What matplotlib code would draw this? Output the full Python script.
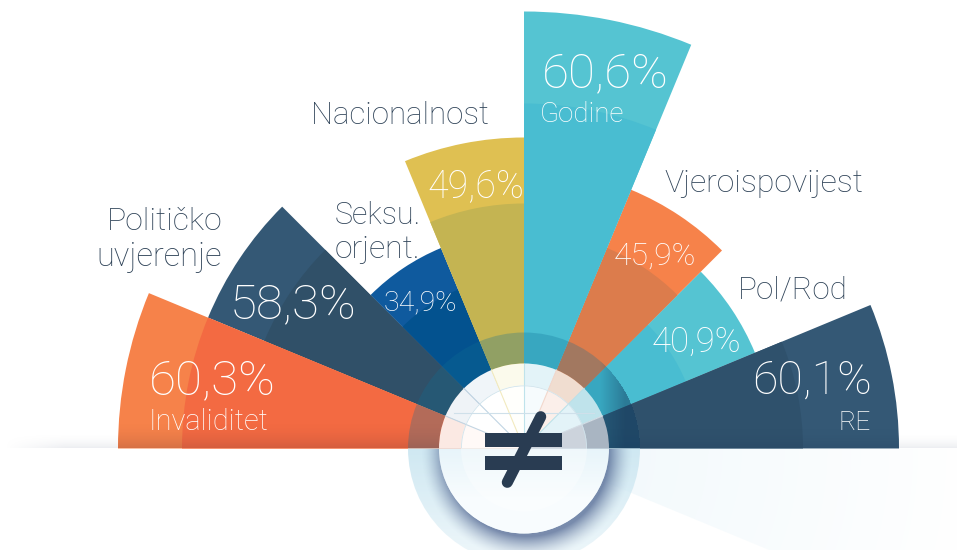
import numpy as np
import matplotlib
matplotlib.use("Agg")
import matplotlib.pyplot as plt
from matplotlib.patches import Wedge, Rectangle
from matplotlib.colors import to_rgb

categories = ["Invaliditet", "Političko uvjerenje", "Seksu. orjent.", "Nacionalnost",
              "Godine", "Vjeroispovijest", "Pol/Rod", "RE"]
values = [60.3, 58.3, 34.9, 49.6, 60.6, 45.9, 40.9, 60.1]
radii_px = [406, 342, 217, 311, 437, 280, 250, 375]
band_px = [342, 281, 172, 245, 345, 217, 175, 279]
outer_colors = ["#F6824A", "#345875", "#0F5A9E", "#DFC052", "#55C4D2", "#F6824A", "#55C4D2", "#345875"]
inner_colors = ["#F36A42", "#305068", "#03528F", "#C4B452", "#49BDD1", "#DC7C4C", "#49BDD1", "#2F516C"]
annulus_tints = ["#FBE9E3", "#EFF3F7", "#F0F5F9", "#FBFAEC", "#E3F3F8", "#F0DDD0", "#BFE3EB", "#A9B5C2"]
core_tints = ["#FFF9F7", "#FFFFFF", "#FFFFFF", "#FFFFFC", "#F6FBFD", "#FBEFEA", "#E3F3F8", "#CCD3DC"]
spoke_colors = ["#F3D9CE", "#C3D6E4", "#C3D6E4", "#F3EBC0", "#BFE3EB", "#F3D9CE", "#BFE3EB", "#D5DEE6"]
draw_order = [2, 1, 0, 3, 6, 5, 7, 4]

CX, CY = 524, 448.5
W, H = 957, 550
STEP = 22.5

plt.rcParams["font.family"] = ["Roboto", "DejaVu Sans"]
fig = plt.figure(figsize=(W / 100, H / 100), dpi=100)
ax = fig.add_axes([0, 0, 1, 1])
ax.set_xlim(0, W)
ax.set_ylim(H, 0)
ax.axis("off")

yy, xx = np.mgrid[0:H, 0:W] + 0.5
rr = np.hypot(xx - CX, yy - CY)


def layer(color, alpha, z, clip=None):
    img = np.zeros((H, W, 4))
    img[..., :3] = to_rgb(color)
    img[..., 3] = np.clip(alpha, 0, 1)
    im = ax.imshow(img, extent=(0, W, H, 0), origin="upper", zorder=z,
                   interpolation="bilinear", aspect="auto")
    if clip is not None:
        ax.add_patch(clip)
        clip.set_visible(False)
        im.set_clip_path(clip)
    return im


# soft horizon shadow
edge_fade = np.clip((xx - 5) / 60, 0, 1)
horizon = np.where(yy < CY, np.clip((yy - 432) / 17, 0, 1) ** 2 * 0.18, 0) * edge_fade
layer("#8A93A8", horizon, 1)

# wedges
for z, i in enumerate(draw_order):
    t1, t2 = 180 + STEP * i, 180 + STEP * (i + 1)
    ax.add_patch(Wedge((CX, CY), radii_px[i], t1, t2, fc=outer_colors[i], ec="none", zorder=2 + z * 0.1))
    ax.add_patch(Wedge((CX, CY), band_px[i], t1, t2, fc=inner_colors[i], ec="none", zorder=2.05 + z * 0.1))

# darkening near the horizon
layer("#5A2A30", np.where(yy < CY, np.clip((yy - 420) / 29, 0, 1) ** 2 * 0.22, 0), 3.0,
      Wedge((CX, CY), radii_px[0], 180, 180 + STEP, transform=ax.transData))
layer("#14284A", np.where(yy < CY, np.clip((yy - 425) / 24, 0, 1) ** 2 * 0.15, 0), 3.0,
      Wedge((CX, CY), radii_px[7], 360 - STEP, 360, transform=ax.transData))

# pale reflection below the horizon, right side
layer("#D6ECF6", 0.28 * np.clip(1 - (rr - 116) / 340, 0, 1), 3.1,
      Wedge((CX, CY), 520, 0, STEP, transform=ax.transData))

# ring: dark on top, light below
ax.add_patch(Wedge((CX, CY), 116, 180, 360, width=31, fc="#0F6F95", alpha=0.28, ec="none", zorder=3.2))
layer("#14284A", np.where(yy < CY, np.clip((xx - 600) / 25, 0, 1) * 0.35, 0) * (rr < 116), 3.25)
layer("#CFE8F2", np.clip(1 - (yy - CY) / 170, 0.3, 1), 3.3,
      Wedge((CX, CY), 116, 0, 180, width=31, transform=ax.transData))

# shadow under the disc
shadow = np.clip(1 - (np.hypot(xx - CX - 3, yy - CY - 6) - 82) / 24, 0, 1) ** 1.6 * 0.7
layer("#4A5F8C", np.where(yy > CY, shadow, 0) * (rr > 80), 3.4)

# disc upper half
for i in range(8):
    t1, t2 = 180 + STEP * i, 180 + STEP * (i + 1)
    ax.add_patch(Wedge((CX, CY), 85, t1, t2, fc=annulus_tints[i], ec="none", zorder=3.5))
    ax.add_patch(Wedge((CX, CY), 63, t1, t2, fc=core_tints[i], ec="none", zorder=3.6))
    a = np.deg2rad(t1)
    if i > 0:
        ax.plot([CX + 8 * np.cos(a), CX + 85 * np.cos(a)], [CY + 8 * np.sin(a), CY + 85 * np.sin(a)],
                color=spoke_colors[i], lw=0.8, zorder=3.7)
for ring_r in (63,):
    ax.add_patch(Wedge((CX, CY), ring_r, 180, 360, width=0.8, fc="#CFE3EC", ec="none", zorder=3.7))
ax.plot([CX - 70, CX + 70], [412.5, 412.5], color="#CFE0EA", lw=0.8, zorder=3.7)

# disc lower half
layer("#E4F3F9", np.ones((H, W)), 3.8, Wedge((CX, CY), 85, 0, 180, transform=ax.transData))
layer("#FCFEFF", np.clip((yy - CY + 10) / 70, 0, 0.85), 3.85, Wedge((CX, CY), 85, 0, 180, transform=ax.transData))
layer("#FFFFFF", 0.35 * np.ones((H, W)), 3.9, Wedge((CX, CY), 63, 0, 180, transform=ax.transData))

# not-equal sign
SIGN = "#293C52"
ax.add_patch(Rectangle((485, 433), 77, 14, fc=SIGN, ec="none", zorder=5))
ax.add_patch(Rectangle((485, 456), 77, 14, fc=SIGN, ec="none", zorder=5))
ax.plot([540.7, 507.3], [416.7, 482.3], color=SIGN, lw=8.0, solid_capstyle="round", zorder=5)


def fmt(v):
    return f"{v:.1f}%".replace(".", ",")


LIGHT = dict(fontweight="light", va="center", zorder=6)
WHITE = "#FFFFFF"
DARK = "#2F4358"

ax.text(212.5, 381, fmt(values[0]), color=WHITE, fontsize=35.5, ha="center", **LIGHT)
ax.text(293, 305, fmt(values[1]), color=WHITE, fontsize=35.5, ha="center", **LIGHT)
ax.text(420.5, 303, fmt(values[2]), color=WHITE, fontsize=20.5, ha="center", **LIGHT)
ax.text(476, 186, fmt(values[3]), color=WHITE, fontsize=27, ha="center", **LIGHT)
ax.text(605.5, 74, fmt(values[4]), color=WHITE, fontsize=35.5, ha="center", **LIGHT)
ax.text(655, 256, fmt(values[5]), color=WHITE, fontsize=23, ha="center", **LIGHT)
ax.text(696.5, 342, fmt(values[6]), color=WHITE, fontsize=25, ha="center", **LIGHT)
ax.text(812.5, 381, fmt(values[7]), color=WHITE, fontsize=33.5, ha="center", **LIGHT)

ax.text(149, 422, categories[0], color=WHITE, fontsize=21, ha="left", **LIGHT)
ax.text(540, 115, categories[4], color=WHITE, fontsize=20, ha="left", **LIGHT)
ax.text(871, 423, categories[7], color=WHITE, fontsize=19, ha="right", **LIGHT)

ax.text(222, 222, "Političko", color=DARK, fontsize=23, ha="right", **LIGHT)
ax.text(222, 257, "uvjerenje", color=DARK, fontsize=23.5, ha="right", **LIGHT)
ax.text(335, 215, "Seksu.", color=DARK, fontsize=22, ha="left", **LIGHT)
ax.text(335, 249, "orjent.", color=DARK, fontsize=23, ha="left", **LIGHT)
ax.text(400, 115, categories[3], color=DARK, fontsize=22.5, ha="center", **LIGHT)
ax.text(764, 183, categories[5], color=DARK, fontsize=23, ha="center", **LIGHT)
ax.text(792.5, 290, categories[6], color=DARK, fontsize=22.6, ha="center", **LIGHT)

ax.set_xlim(0, W)
ax.set_ylim(H, 0)
fig.savefig("out.png", dpi=100)
